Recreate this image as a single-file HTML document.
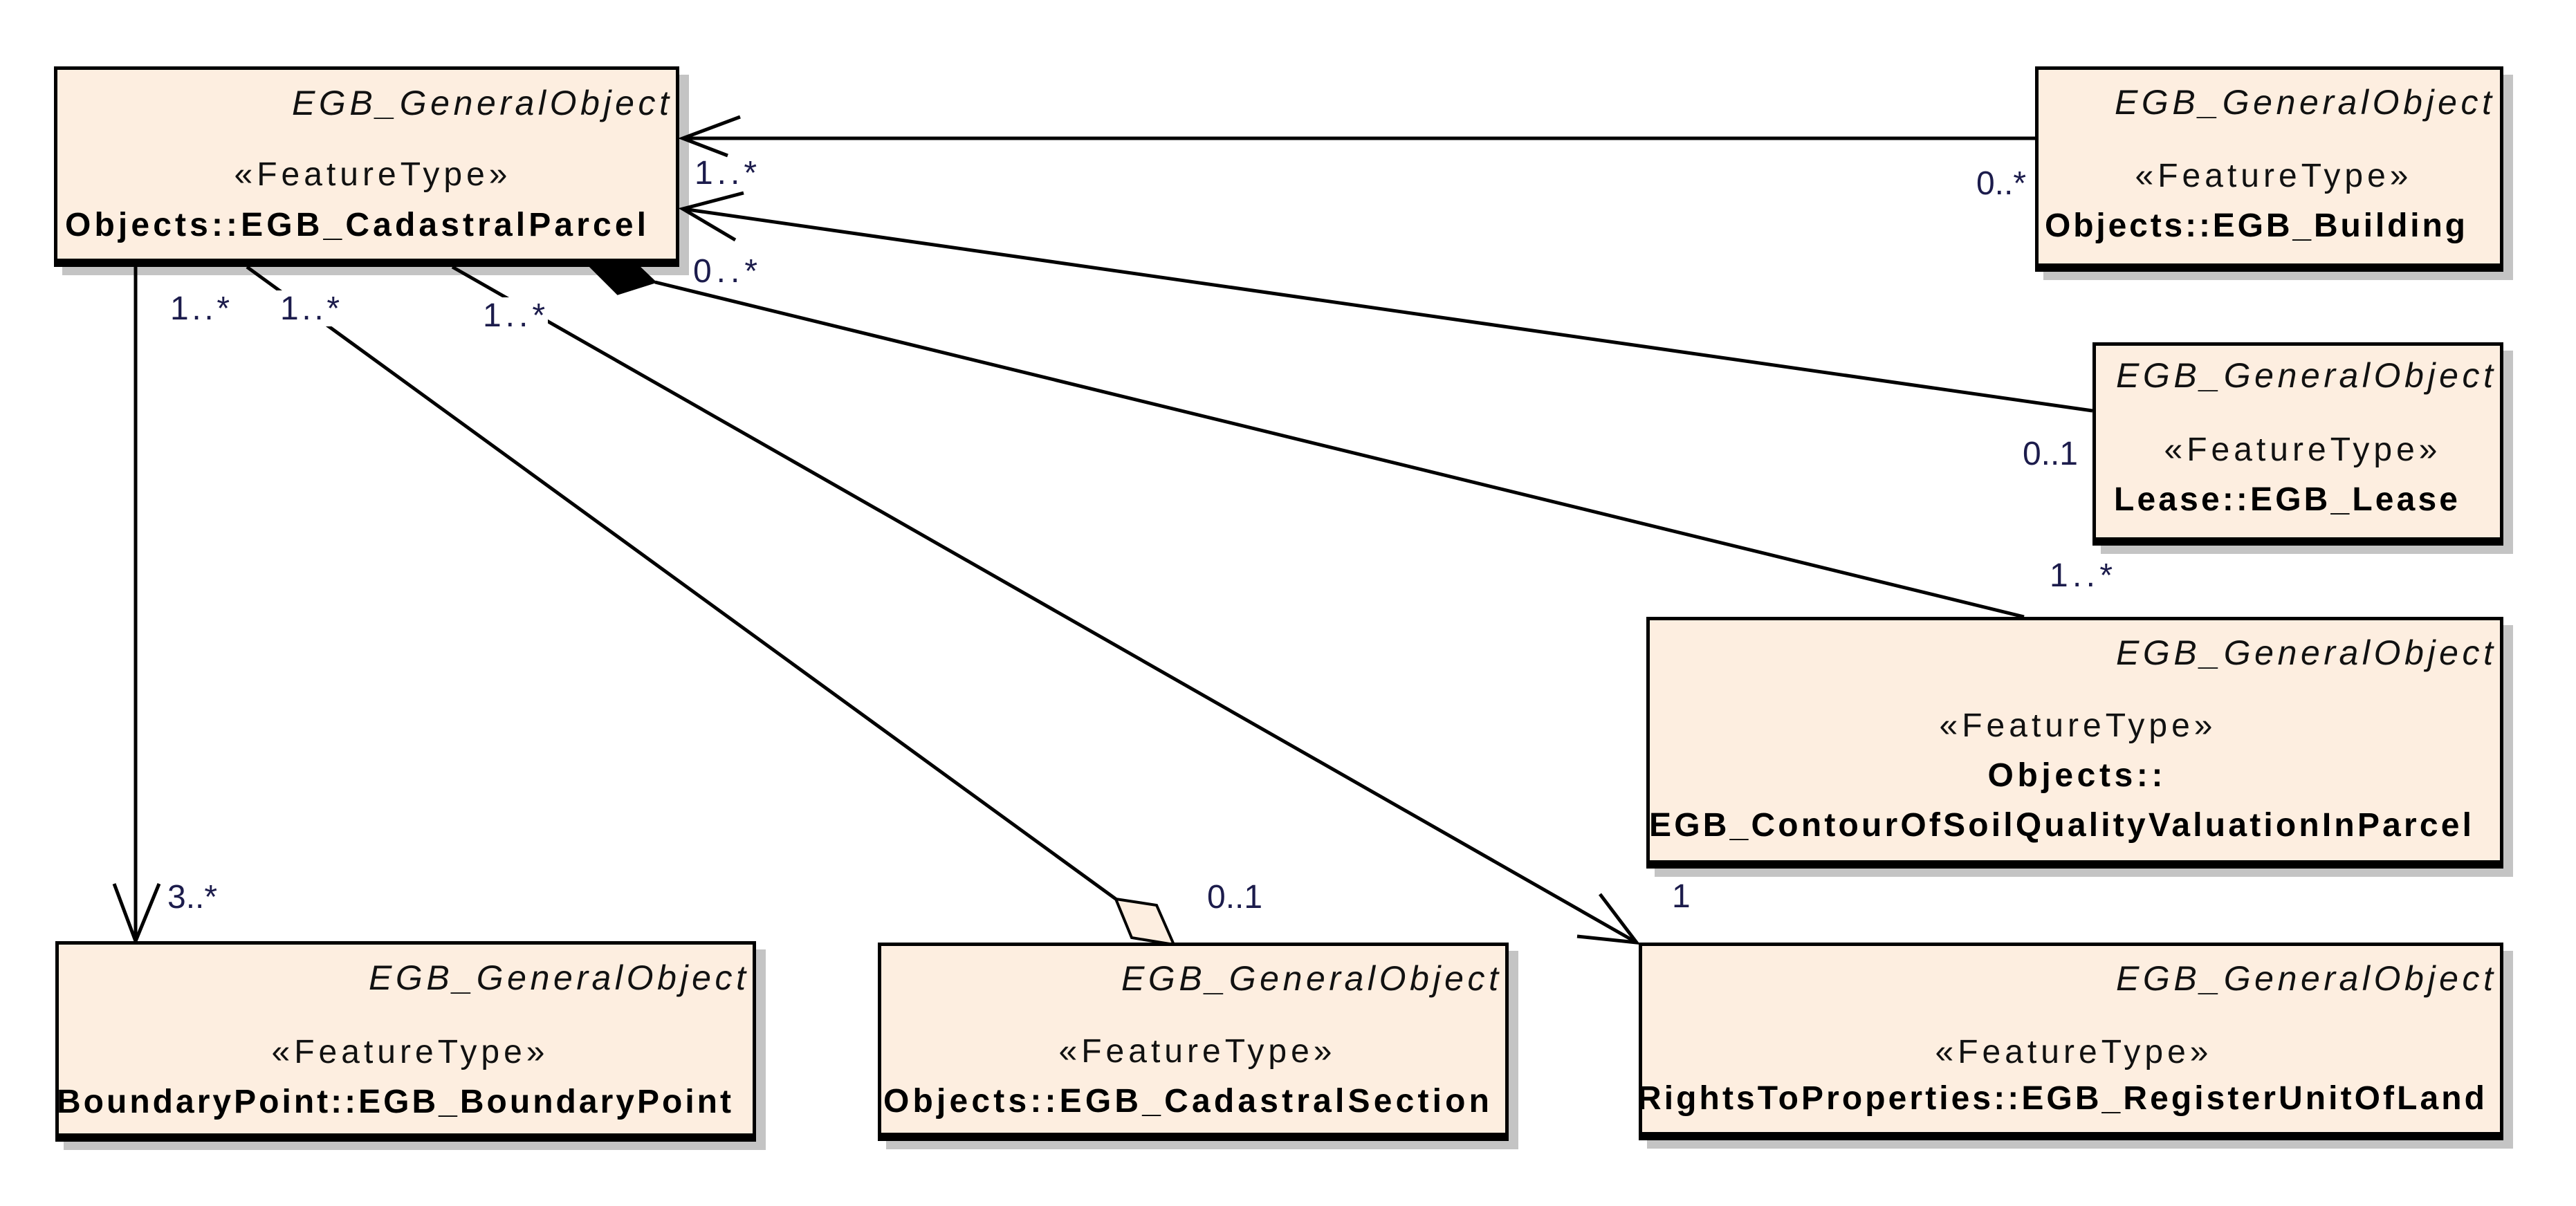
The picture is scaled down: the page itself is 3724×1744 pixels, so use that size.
<!DOCTYPE html>
<html><head><meta charset="utf-8"><style>
html,body{margin:0;padding:0;background:#fff}
svg{display:block}
text{font-family:"Liberation Sans",Arial,sans-serif}
.it{font-style:italic;font-size:50px;fill:#111}
.st{font-size:48px;fill:#111}
.bd{font-size:48px;font-weight:bold;fill:#000}
.lb{font-size:48px;fill:#1c1c4c}
</style></head><body>
<svg width="3724" height="1744" viewBox="0 0 3724 1744" xmlns="http://www.w3.org/2000/svg">
<defs>
<clipPath id="c1"><rect x="78" y="96" width="902" height="290"/></clipPath>
<clipPath id="c2"><rect x="2942" y="96" width="675" height="297"/></clipPath>
<clipPath id="c3"><rect x="3025" y="495" width="592" height="294"/></clipPath>
<clipPath id="c4"><rect x="2380" y="892" width="1237" height="364"/></clipPath>
<clipPath id="c5"><rect x="2369" y="1363" width="1248" height="286"/></clipPath>
<clipPath id="c6"><rect x="80" y="1361" width="1011" height="290"/></clipPath>
<clipPath id="c7"><rect x="1269" y="1363" width="910" height="287"/></clipPath>
</defs>

<g fill="#c4c4c4">
<rect x="90" y="108" width="906" height="290"/>
<rect x="2954" y="108" width="679" height="297"/>
<rect x="3037" y="507" width="596" height="294"/>
<rect x="2392" y="904" width="1241" height="364"/>
<rect x="2381" y="1375" width="1252" height="286"/>
<rect x="92" y="1373" width="1015" height="290"/>
<rect x="1281" y="1375" width="914" height="287"/>
</g>

<g stroke="#000" stroke-width="5" fill="none">
<line x1="987" y1="200" x2="2942" y2="200"/>
<polyline points="1070,169 987,200 1052,225"/>
<line x1="987" y1="302" x2="3025" y2="594"/>
<polyline points="1075,279 987,302 1063,347"/>
<line x1="947" y1="408" x2="2926" y2="892"/>
<line x1="196" y1="386" x2="196" y2="1361"/>
<polyline points="165,1278 196,1361 230,1278"/>
<line x1="357" y1="386" x2="1613" y2="1300"/>
<line x1="654" y1="386" x2="2366" y2="1363"/>
<polyline points="2313,1293 2366,1363 2280,1354"/>
</g>
<polygon points="903,366 947,408 893,425 848,380" fill="#000" stroke="#000" stroke-width="3"/>
<polygon points="1613,1300 1672,1309 1697,1366 1636,1356" fill="#fdeee0" stroke="#000" stroke-width="4"/>

<g fill="#fff">
<rect x="1000" y="228" width="98" height="48"/>
<rect x="998" y="370" width="100" height="48"/>
<rect x="240" y="420" width="96" height="52"/>
<rect x="400" y="420" width="96" height="52"/>
<rect x="694" y="430" width="98" height="52"/>
</g>
<text class="lb" x="1004" y="266" textLength="90">1..*</text>
<text class="lb" x="1002" y="408" textLength="93">0..*</text>
<text class="lb" x="246" y="462" textLength="86">1..*</text>
<text class="lb" x="405" y="462" textLength="86">1..*</text>
<text class="lb" x="698" y="472" textLength="90">1..*</text>
<text class="lb" x="2929" y="281" text-anchor="end">0..*</text>
<text class="lb" x="3004" y="672" text-anchor="end">0..1</text>
<text class="lb" x="2963" y="848" textLength="91">1..*</text>
<text class="lb" x="2417" y="1312">1</text>
<text class="lb" x="242" y="1313">3..*</text>
<text class="lb" x="1745" y="1313">0..1</text>

<g fill="#fdeee0" stroke="#000" stroke-width="5">
<rect x="80.5" y="98.5" width="899" height="285"/>
<rect x="2944.5" y="98.5" width="672" height="292"/>
<rect x="3027.5" y="497.5" width="589" height="289"/>
<rect x="2382.5" y="894.5" width="1234" height="359"/>
<rect x="2371.5" y="1365.5" width="1245" height="281"/>
<rect x="82.5" y="1363.5" width="1008" height="285"/>
<rect x="1271.5" y="1365.5" width="907" height="282"/>
</g>
<g fill="#000">
<rect x="78" y="374" width="904" height="12"/>
<rect x="2942" y="381" width="677" height="12"/>
<rect x="3025" y="777" width="594" height="12"/>
<rect x="2380" y="1244" width="1239" height="12"/>
<rect x="2369" y="1637" width="1250" height="12"/>
<rect x="80" y="1639" width="1013" height="12"/>
<rect x="1269" y="1638" width="912" height="12"/>
</g>

<text class="it" x="422" y="166" textLength="545" clip-path="url(#c1)">EGB_GeneralObject</text>
<text class="st" x="536" y="268" text-anchor="middle" textLength="395">«FeatureType»</text>
<text class="bd" x="94" y="341" textLength="840">Objects::EGB_CadastralParcel</text>

<text class="it" x="3057" y="165" textLength="545" clip-path="url(#c2)">EGB_GeneralObject</text>
<text class="st" x="3284" y="270" text-anchor="middle" textLength="395">«FeatureType»</text>
<text class="bd" x="2956" y="342" textLength="608">Objects::EGB_Building</text>

<text class="it" x="3059" y="560" textLength="545" clip-path="url(#c3)">EGB_GeneralObject</text>
<text class="st" x="3326" y="666" text-anchor="middle" textLength="395">«FeatureType»</text>
<text class="bd" x="3056" y="738" textLength="497">Lease::EGB_Lease</text>

<text class="it" x="3059" y="961" textLength="545" clip-path="url(#c4)">EGB_GeneralObject</text>
<text class="st" x="3001" y="1065" text-anchor="middle" textLength="395">«FeatureType»</text>
<text class="bd" x="3000" y="1137" text-anchor="middle" textLength="253">Objects::</text>
<text class="bd" x="2384" y="1209" textLength="1189">EGB_ContourOfSoilQualityValuationInParcel</text>

<text class="it" x="3059" y="1432" textLength="545" clip-path="url(#c5)">EGB_GeneralObject</text>
<text class="st" x="2995" y="1537" text-anchor="middle" textLength="395">«FeatureType»</text>
<text class="bd" x="2367" y="1604" textLength="1225">RightsToProperties::EGB_RegisterUnitOfLand</text>

<text class="it" x="533" y="1431" textLength="545" clip-path="url(#c6)">EGB_GeneralObject</text>
<text class="st" x="590" y="1537" text-anchor="middle" textLength="395">«FeatureType»</text>
<text class="bd" x="82" y="1609" textLength="975">BoundaryPoint::EGB_BoundaryPoint</text>

<text class="it" x="1621" y="1432" textLength="545" clip-path="url(#c7)">EGB_GeneralObject</text>
<text class="st" x="1728" y="1536" text-anchor="middle" textLength="395">«FeatureType»</text>
<text class="bd" x="1277" y="1608" textLength="876">Objects::EGB_CadastralSection</text>
</svg>
</body></html>
